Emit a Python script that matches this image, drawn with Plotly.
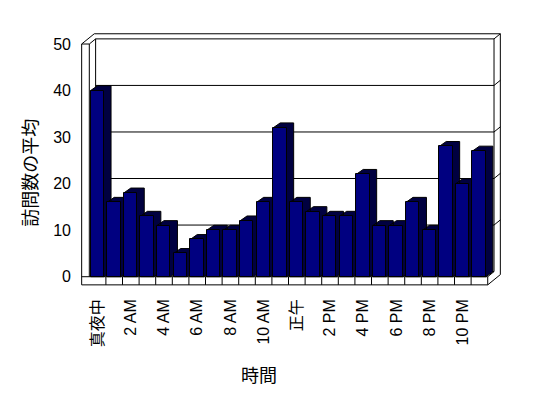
import plotly.graph_objects as go

# ---- data ----
hours = list(range(24))
visits = [40, 16, 18, 13, 11, 5, 8, 10, 10, 12, 16, 32,
          16, 14, 13, 13, 22, 11, 11, 16, 10, 28, 20, 27]
tick_pos = [0, 2, 4, 6, 8, 10, 12, 14, 16, 18, 20, 22]
tick_text = ["真夜中", "2 AM", "4 AM", "6 AM", "8 AM", "10 AM",
             "正午", "2 PM", "4 PM", "6 PM", "8 PM", "10 PM"]
y_ticks = [0, 10, 20, 30, 40, 50]
y_title = "訪問数の平均"
x_title = "時間"

# ---- geometry (data units) ----
FONT = "Liberation Sans, Arial, Noto Sans CJK JP, sans-serif"
NAVY = "#000080"
SIDE = "#000040"
X0, X1 = -0.5, len(hours) - 0.5     # front interior
YMAX = 50
WALL = 0.46      # left wall thickness
FH = 1.75        # floor thickness
DXW, DYW = 0.38, 1.1   # wall depth offset
DX, DY = 0.42, 1.05    # bar depth offset
BW, BOFF = 0.81, -0.42  # bar front width / offset

XR = [-1.06, 24.36]
YR = [-2.21, 52.58]

fx, fy = [], []
def seg(pts):
    for (a, b) in pts:
        fx.append(a); fy.append(b)
    fx.append(None); fy.append(None)

# back panel and walls
seg([(X0 + DXW, DYW), (X0 + DXW, YMAX + DYW), (X1 + DXW, YMAX + DYW), (X1 + DXW, DYW), (X0 + DXW, DYW)])
seg([(X0 - WALL, YMAX), (X0 - WALL + 2 * DXW, YMAX + 2 * DYW), (X1 + 2 * DXW, YMAX + 2 * DYW),
     (X1 + 2 * DXW, -FH + 2 * DYW), (X1, -FH)])
seg([(X0, YMAX), (X0 + DXW, YMAX + DYW)])
seg([(X1 + DXW, YMAX + DYW), (X1 + 2 * DXW, YMAX + 2 * DYW)])
seg([(X1, 0), (X1 + DXW, DYW)])
for v in y_ticks[1:-1]:
    seg([(X0 + DXW, v + DYW), (X1 + DXW, v + DYW), (X1 + 2 * DXW, v + 2 * DYW)])

# front frame: left wall and floor
gx, gy = [], []
def seg2(pts):
    for (a, b) in pts:
        gx.append(a); gy.append(b)
    gx.append(None); gy.append(None)
seg2([(X0 - WALL, -FH), (X0 - WALL, YMAX), (X0, YMAX), (X0, 0)])
seg2([(X0 - WALL, -FH), (X1, -FH), (X1, 0), (X0 - WALL, 0)])
for i in hours[:-1]:
    seg2([(i + 0.5, -FH), (i + 0.5, 0)])

# bar depth polygons (top + side), computed from the data
px_, py_ = [], []
for h, v in zip(hours, visits):
    xl, xr = h + BOFF, h + BOFF + BW
    for a, b in [(xl, 0), (xl, v), (xl + DX, v + DY), (xr + DX, v + DY),
                 (xr + DX, DY), (xr, 0), (xl, 0)]:
        px_.append(a); py_.append(b)
    px_.append(None); py_.append(None)

fig = go.Figure()
# base subplot: back frame + bar depth faces
fig.add_trace(go.Scatter(x=fx, y=fy, mode="lines", line=dict(color="black", width=1),
                         hoverinfo="skip", cliponaxis=False, showlegend=False))
fig.add_trace(go.Scatter(x=px_, y=py_, mode="lines", fill="toself", fillcolor=SIDE,
                         line=dict(color="black", width=1), hoverinfo="skip",
                         cliponaxis=False, showlegend=False))
# overlay subplot: front faces of bars + front frame
fig.add_trace(go.Bar(x=hours, y=visits, width=BW, offset=BOFF, xaxis="x2", yaxis="y2",
                     marker=dict(color=NAVY, line=dict(color="black", width=1)),
                     showlegend=False))
fig.add_trace(go.Scatter(x=gx, y=gy, mode="lines", line=dict(color="black", width=1),
                         xaxis="x2", yaxis="y2",
                         hoverinfo="skip", cliponaxis=False, showlegend=False))

fig.update_layout(
    width=548, height=398,
    margin=dict(l=80, r=46, t=32, b=111),
    paper_bgcolor="white", plot_bgcolor="white",
    font=dict(family=FONT, size=16, color="black"),
    bargap=0,
    xaxis=dict(range=XR, tickmode="array", tickvals=tick_pos, ticktext=tick_text,
               tickangle=-90, showgrid=False, zeroline=False, showline=False,
               ticks="", ticklabelstandoff=8, tickfont=dict(size=16)),
    yaxis=dict(range=YR, tickmode="array", tickvals=y_ticks,
               showgrid=False, zeroline=False, showline=False,
               ticks="", ticklabelstandoff=8, tickfont=dict(size=16)),
    xaxis2=dict(range=XR, overlaying="x", visible=False),
    yaxis2=dict(range=YR, overlaying="y", visible=False),
    annotations=[
        dict(text=y_title, xref="paper", yref="paper", x=(30.8 - 80) / 422, y=(287 - 173) / 255,
             xanchor="center", yanchor="middle", textangle=-90, showarrow=False,
             font=dict(size=18)),
        dict(text=x_title, xref="paper", yref="paper", x=(259 - 80) / 422, y=(287 - 375.5) / 255,
             xanchor="center", yanchor="middle", showarrow=False, font=dict(size=18)),
    ],
)

fig.write_html("out.html")
